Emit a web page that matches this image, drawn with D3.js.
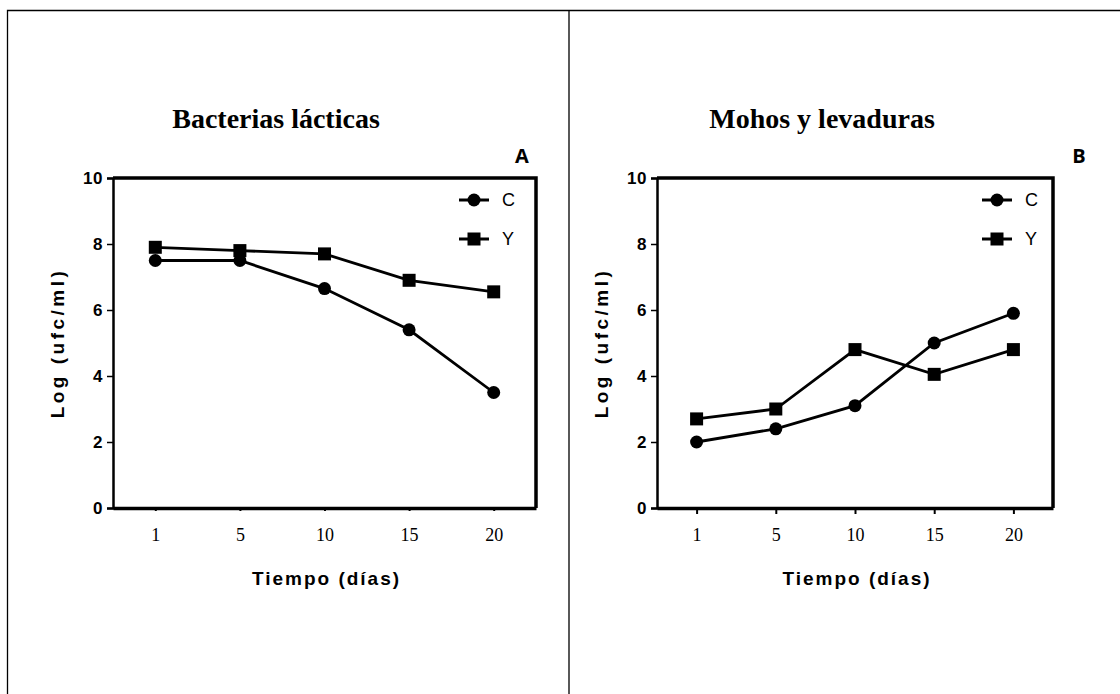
<!DOCTYPE html>
<html lang="es">
<head>
<meta charset="UTF-8">
<script src="https://cdn.jsdelivr.net/npm/d3@7"></script>
<title>Bacterias lácticas / Mohos y levaduras</title>
<style>
    body { margin: 0; background: white; }
    svg { display: block; }
    .tick text { font-family: "Liberation Sans Narrow", "Liberation Sans", Arial, sans-serif; font-weight: bold; font-size: 17px; letter-spacing: 0.5px; fill: black; }
    .xaxis .tick text { font-family: "Liberation Serif", "Times New Roman", serif; font-weight: normal; font-size: 18px; letter-spacing: 0; }
    .axtitle { font-family: "Liberation Sans Narrow", "Liberation Sans", Arial, sans-serif; font-weight: bold; font-size: 19px; }
</style>
</head>
<body>
<script>
    const days = ["1", "5", "10", "15", "20"];
    const seriesNames = ["C", "Y"];
    const bactC = [7.5, 7.5, 6.65, 5.4, 3.5];
    const bactY = [7.9, 7.8, 7.7, 6.9, 6.55];
    const mohoC = [2.0, 2.4, 3.1, 5.0, 5.9];
    const mohoY = [2.7, 3.0, 4.8, 4.05, 4.8];
    const yTicks = [0, 2, 4, 6, 8, 10];
    const titles = ["Bacterias lácticas", "Mohos y levaduras"];
    const letters = ["A", "B"];

    const width = 1120, height = 694;
    const svg = d3.select("body").append("svg")
        .attr("width", width)
        .attr("height", height);

    // outer table frame
    svg.append("path")
        .attr("d", "M7.5,700 V10.5 H1125 M569,10.5 V700")
        .attr("fill", "none")
        .attr("stroke", "black")
        .attr("stroke-width", 1.3);

    const drawPanel = (cfg) => {
        const g = svg.append("g");
        const x = d3.scalePoint().domain(days).range([cfg.left, cfg.right]).padding(0.5);
        const y = d3.scaleLinear().domain([0, 10]).range([508, 178]);

        g.append("text")
            .attr("x", cfg.titleX).attr("y", 128)
            .attr("text-anchor", "middle")
            .style("font-family", "'Liberation Serif', 'Times New Roman', serif")
            .style("font-weight", "bold")
            .style("font-size", "28px")
            .text(cfg.title);

        g.append("text")
            .attr("x", cfg.letterX).attr("y", 163)
            .attr("text-anchor", "middle")
            .style("font-family", "'Open Sans', 'Liberation Sans', sans-serif")
            .style("font-weight", "bold")
            .style("font-size", "20px")
            .text(cfg.letter);

        // y axis
        const yAxis = g.append("g")
            .attr("transform", `translate(${cfg.left},0)`)
            .call(d3.axisLeft(y).tickValues(yTicks).tickSize(6).tickPadding(4));
        yAxis.select(".domain").attr("stroke-width", 2.5);
        yAxis.selectAll(".tick line").attr("stroke-width", 1.5);

        // x axis
        const xAxis = g.append("g")
            .attr("class", "xaxis")
            .attr("transform", "translate(0,508)")
            .call(d3.axisBottom(x).tickSize(cfg.xTick).tickSizeOuter(0).tickPadding(20 - cfg.xTick));
        xAxis.select(".domain").attr("stroke-width", 3.5);
        xAxis.selectAll(".tick line").attr("stroke-width", 2);

        // top and right frame
        g.append("path")
            .attr("d", `M${cfg.left},178 H${cfg.right} V508`)
            .attr("fill", "none")
            .attr("stroke", "black")
            .attr("stroke-width", 3.5);

        g.append("text")
            .attr("class", "axtitle")
            .attr("transform", `translate(${cfg.left - 49},343) rotate(-90)`)
            .attr("text-anchor", "middle")
            .style("letter-spacing", "3.5px")
            .text("Log (ufc/ml)");

        g.append("text")
            .attr("class", "axtitle")
            .attr("x", (cfg.left + cfg.right) / 2 + 2).attr("y", 585)
            .attr("text-anchor", "middle")
            .style("letter-spacing", "2px")
            .text("Tiempo (días)");

        const line = d3.line().x((d, i) => x(days[i])).y(d => y(d));
        [cfg.c, cfg.y].forEach((vals, s) => {
            g.append("path")
                .datum(vals)
                .attr("d", line)
                .attr("fill", "none")
                .attr("stroke", "black")
                .attr("stroke-width", 2.8);
            vals.forEach((v, i) => {
                if (s === 0) {
                    g.append("circle").attr("cx", x(days[i])).attr("cy", y(v)).attr("r", 6.5);
                } else {
                    g.append("rect").attr("x", x(days[i]) - 6.5).attr("y", y(v) - 6.5).attr("width", 13).attr("height", 13);
                }
            });
        });

        // legend
        seriesNames.forEach((name, s) => {
            const ly = 200 + s * 39;
            const lx = cfg.legendX;
            g.append("line").attr("x1", lx - 15).attr("x2", lx + 15).attr("y1", ly).attr("y2", ly)
                .attr("stroke", "black").attr("stroke-width", 3);
            if (s === 0) g.append("circle").attr("cx", lx).attr("cy", ly).attr("r", 6.5);
            else g.append("rect").attr("x", lx - 6.5).attr("y", ly - 6.5).attr("width", 13).attr("height", 13);
            g.append("text")
                .attr("x", lx + 28).attr("y", ly + 6)
                .style("font-family", "'Liberation Sans Narrow', 'Liberation Sans', Arial, sans-serif")
                .style("font-size", "18px")
                .text(name);
        });
    };

    drawPanel({ left: 113, right: 536, title: titles[0], titleX: 276, letter: letters[0], letterX: 522,
        c: bactC, y: bactY, legendX: 474, xTick: 3 });
    drawPanel({ left: 657, right: 1053, title: titles[1], titleX: 822, letter: letters[1], letterX: 1079,
        c: mohoC, y: mohoY, legendX: 997, xTick: 6 });
</script>
</body>
</html>
